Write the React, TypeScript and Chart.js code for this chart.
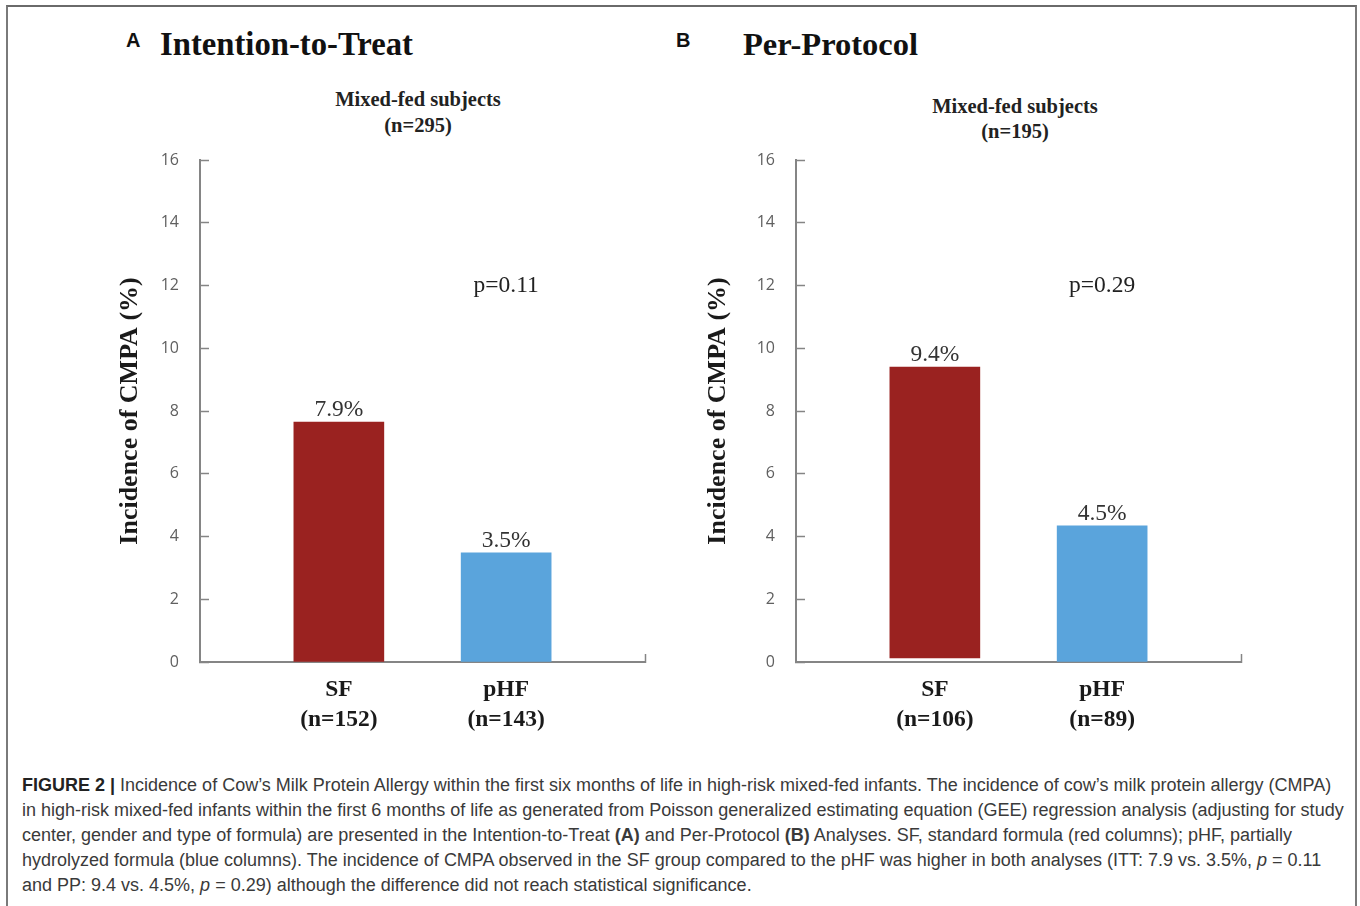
import React, { useEffect, useRef } from "react";
import { Chart, registerables } from "chart.js";

Chart.register(...registerables);

// ---------- data ----------
const categories = ["SF", "pHF"];
const ittSizes = ["(n=152)", "(n=143)"];
const ppSizes = ["(n=106)", "(n=89)"];
const ittValues = [7.65, 3.48];
const ittBottoms = [0, 0];
const ppValues = [9.4, 4.34];
const ppBottoms = [0.13, 0];
const ittLabels = ["7.9%", "3.5%"];
const ppLabels = ["9.4%", "4.5%"];
const ittP = "p=0.11";
const ppP = "p=0.29";
const pValueY = 12;
const yMin = 0;
const yMax = 16;
const yStep = 2;
const xMin = 0.17;
const xMax = 2.83;
const barColors = ["#9A2220", "#5AA4DC"];

const SERIF = '"Liberation Serif", "Times New Roman", serif';
const SANS = '"Liberation Sans", Arial, sans-serif';
const TICK_FONT = '"Open Sans", "Liberation Sans", sans-serif';
const AXIS_GREY = "#858585";

function makeConfig(
  values: number[],
  bottoms: number[],
  labels: string[],
  sizes: string[],
  pText: string,
  titlePad: number
): any {
  const annotate = {
    id: "annotate",
    afterDatasetsDraw(chart: any) {
      const ctx = chart.ctx;
      const meta = chart.getDatasetMeta(0);
      ctx.save();
      ctx.font = `23.5px ${SERIF}`;
      ctx.fillStyle = "#333333";
      ctx.textAlign = "center";
      ctx.textBaseline = "alphabetic";
      meta.data.forEach((bar: any, i: number) => {
        ctx.fillText(labels[i], bar.x, bar.y - 6);
      });
      const xs = chart.scales.x;
      const ys = chart.scales.y;
      ctx.textBaseline = "middle";
      ctx.fillStyle = "#222222";
      ctx.fillText(pText, xs.getPixelForValue(2), ys.getPixelForValue(pValueY));
      ctx.restore();
    },
  };

  return {
    type: "bar",
    data: {
      datasets: [
        {
          data: values.map((v, i) => ({ x: i + 1, y: [bottoms[i], v] })),
          backgroundColor: barColors,
          borderWidth: 0,
          barThickness: 90,
        },
      ],
    },
    options: {
      responsive: false,
      animation: false,
      devicePixelRatio: 1,
      layout: { padding: { left: 0, right: 15, top: 20, bottom: 0 } },
      plugins: {
        legend: { display: false },
        tooltip: { enabled: false },
        title: { display: false },
      },
      scales: {
        x: {
          type: "linear",
          min: xMin,
          max: xMax,
          offset: false,
          afterBuildTicks: (scale: any) => {
            scale.ticks = [{ value: 1 }, { value: 2 }, { value: scale.max }];
          },
          afterFit: (scale: any) => {
            scale.height = 98;
            scale.paddingLeft = 0;
            scale.paddingRight = 0;
          },
          grid: {
            offset: false,
            drawOnChartArea: false,
            drawTicks: true,
            tickLength: -8,
            tickWidth: 1.5,
            color: (c: any) =>
              c.tick && c.tick.value !== 1 && c.tick.value !== 2 ? AXIS_GREY : "rgba(0,0,0,0)",
            tickColor: (c: any) =>
              c.tick && c.tick.value !== 1 && c.tick.value !== 2 ? AXIS_GREY : "rgba(0,0,0,0)",
          },
          border: { display: true, color: AXIS_GREY, width: 2 },
          ticks: {
            autoSkip: false,
            maxRotation: 0,
            padding: 21,
            color: "#1a1a1a",
            font: { family: SERIF, size: 23.5, weight: "bold", lineHeight: "30px" },
            callback: (value: number) => {
              const idx = Math.round(value) - 1;
              if (Math.abs(value - Math.round(value)) < 1e-6 && idx >= 0 && idx < categories.length) {
                return [categories[idx], sizes[idx]];
              }
              return "";
            },
          },
        },
        y: {
          type: "linear",
          min: yMin,
          max: yMax,
          afterFit: (scale: any) => {
            scale.width = 100;
            scale.paddingTop = 0;
            scale.paddingBottom = 0;
          },
          grid: {
            drawOnChartArea: false,
            drawTicks: true,
            tickLength: -9,
            tickWidth: 1.5,
            color: AXIS_GREY,
          },
          border: { display: true, color: AXIS_GREY, width: 2 },
          ticks: {
            stepSize: yStep,
            padding: 30,
            color: "#606060",
            font: { family: TICK_FONT, size: 16 },
          },
          title: {
            display: true,
            text: "Incidence of CMPA (%)",
            color: "#1a1a1a",
            font: { family: SERIF, size: 26, weight: "bold", lineHeight: 1.2 },
            padding: { top: titlePad, bottom: 0 },
          },
        },
      },
    },
    plugins: [annotate],
  };
}

function ChartPanel(props: {
  left: number;
  values: number[];
  bottoms: number[];
  labels: string[];
  sizes: string[];
  pText: string;
  titlePad: number;
}) {
  const ref = useRef<HTMLCanvasElement | null>(null);
  useEffect(() => {
    if (!ref.current) return;
    const chart = new Chart(
      ref.current,
      makeConfig(props.values, props.bottoms, props.labels, props.sizes, props.pText, props.titlePad)
    );
    return () => chart.destroy();
  }, []);
  return (
    <canvas
      ref={ref}
      width={560}
      height={620}
      style={{ position: "absolute", left: props.left, top: 140, width: 560, height: 620 }}
    />
  );
}

const abs = (o: any): React.CSSProperties => ({ position: "absolute", whiteSpace: "nowrap", ...o });

const captionLines: React.ReactNode[] = [
  <>
    <b style={{ color: "#222" }}>FIGURE 2 |</b> Incidence of Cow’s Milk Protein Allergy within the first six months of
    life in high-risk mixed-fed infants. The incidence of cow’s milk protein allergy (CMPA)
  </>,
  <>
    in high-risk mixed-fed infants within the first 6 months of life as generated from Poisson generalized estimating
    equation (GEE) regression analysis (adjusting for study
  </>,
  <>
    center, gender and type of formula) are presented in the Intention-to-Treat <b>(A)</b> and Per-Protocol <b>(B)</b>{" "}
    Analyses. SF, standard formula (red columns); pHF, partially
  </>,
  <>
    hydrolyzed formula (blue columns). The incidence of CMPA observed in the SF group compared to the pHF was higher in
    both analyses (ITT: 7.9 vs. 3.5%, <i>p</i> = 0.11
  </>,
  <>
    and PP: 9.4 vs. 4.5%, <i>p</i> = 0.29) although the difference did not reach statistical significance.
  </>,
];

export default function App() {
  return (
    <div
      style={{
        position: "absolute",
        left: 0,
        top: 0,
        width: 1360,
        height: 906,
        overflow: "hidden",
        background: "#ffffff",
      }}
    >
      <div
        style={{
          position: "absolute",
          left: 6,
          top: 5,
          width: 1351,
          height: 1000,
          boxSizing: "border-box",
          borderTop: "2px solid #6a6a6a",
          borderLeft: "2px solid #7a7a7a",
          borderRight: "2px solid #7a7a7a",
        }}
      />

      {/* Panel labels and titles */}
      <div style={abs({ left: 126, top: 30, font: `bold 20px ${SANS}`, lineHeight: "20px", color: "#111" })}>A</div>
      <div style={abs({ left: 160, top: 28, font: `bold 32.7px ${SERIF}`, lineHeight: "32px", color: "#111" })}>
        Intention-to-Treat
      </div>
      <div style={abs({ left: 676, top: 30, font: `bold 20px ${SANS}`, lineHeight: "20px", color: "#111" })}>B</div>
      <div style={abs({ left: 743, top: 28, font: `bold 32.5px ${SERIF}`, lineHeight: "32px", color: "#111" })}>
        Per-Protocol
      </div>

      <div
        style={abs({
          left: 418 - 150,
          width: 300,
          top: 87,
          textAlign: "center",
          font: `bold 20.5px ${SERIF}`,
          lineHeight: "25.5px",
          color: "#222",
        })}
      >
        Mixed-fed subjects
        <br />
        (n=295)
      </div>
      <div
        style={abs({
          left: 1015 - 150,
          width: 300,
          top: 93.5,
          textAlign: "center",
          font: `bold 20.5px ${SERIF}`,
          lineHeight: "25px",
          color: "#222",
        })}
      >
        Mixed-fed subjects
        <br />
        (n=195)
      </div>

      <ChartPanel
        left={100}
        values={ittValues}
        bottoms={ittBottoms}
        labels={ittLabels}
        sizes={ittSizes}
        pText={ittP}
        titlePad={14.4}
      />
      <ChartPanel
        left={696}
        values={ppValues}
        bottoms={ppBottoms}
        labels={ppLabels}
        sizes={ppSizes}
        pText={ppP}
        titlePad={6.4}
      />

      {/* Caption */}
      <div
        style={abs({
          left: 22,
          top: 773.4,
          font: `18px ${SANS}`,
          lineHeight: "24.8px",
          color: "#3a3a3a",
        })}
      >
        {captionLines.map((l, i) => (
          <div key={i}>{l}</div>
        ))}
      </div>
    </div>
  );
}
